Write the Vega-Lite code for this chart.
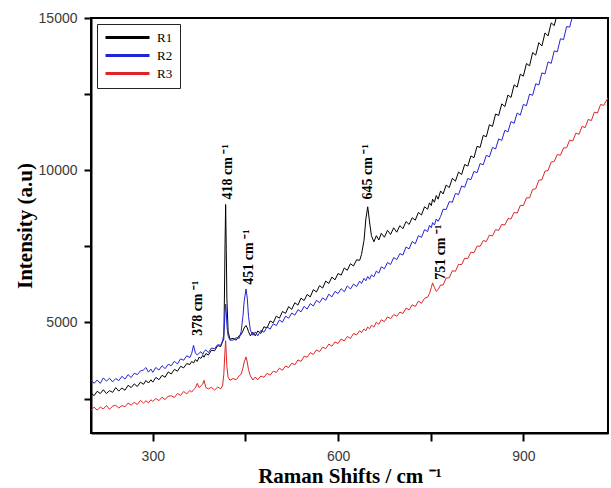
{
  "$schema": "https://vega.github.io/schema/vega-lite/v6.json",
  "width": 517,
  "height": 415,
  "autosize": {"type": "none"},
  "padding": {"left": 91, "top": 18, "right": 3, "bottom": 55},
  "background": "white",
  "config": {
    "view": {"stroke": "black", "strokeWidth": 2},
    "axis": {
      "domainColor": "black",
      "domainWidth": 2,
      "tickColor": "black",
      "tickWidth": 2,
      "grid": false,
      "labelFont": "Liberation Sans",
      "labelFontSize": 14,
      "labelColor": "#3a3a3a",
      "titleFont": "Liberation Serif",
      "titleFontWeight": "bold",
      "titleFontSize": 21,
      "titleColor": "black"
    }
  },
  "layer": [
    {
      "data": {
        "values": [
          {"x":200,"R1":2690,"R2":3120,"R3":2110},{"x":205,"R1":2595,"R2":3000,"R3":2220},{"x":210,"R1":2740,"R2":3110,"R3":2120},{"x":215,"R1":2665,"R2":3000,"R3":2220},{"x":220,"R1":2790,"R2":3180,"R3":2160},{"x":225,"R1":2665,"R2":3070,"R3":2270},{"x":230,"R1":2760,"R2":3170,"R3":2150},{"x":235,"R1":2705,"R2":3050,"R3":2250},{"x":240,"R1":2860,"R2":3160,"R3":2280},{"x":245,"R1":2745,"R2":3090,"R3":2190},{"x":250,"R1":2850,"R2":3230,"R3":2270},
          {"x":255,"R1":2773,"R2":3143,"R3":2232},{"x":260,"R1":2937,"R2":3287,"R3":2353},{"x":265,"R1":2860,"R2":3190,"R3":2285},{"x":270,"R1":2983,"R2":3333,"R3":2377},{"x":275,"R1":2897,"R2":3287,"R3":2308},{"x":280,"R1":3040,"R2":3410,"R3":2440},{"x":285,"R1":2970,"R2":3440,"R3":2350},{"x":289,"R1":3096,"R2":3520,"R3":2430},{"x":293,"R1":3012,"R2":3370,"R3":2360},{"x":297,"R1":3118,"R2":3470,"R3":2460},
          {"x":300,"R1":3040,"R2":3360,"R3":2410},{"x":305,"R1":3195,"R2":3523,"R3":2502},{"x":310,"R1":3120,"R2":3437,"R3":2433},{"x":315,"R1":3265,"R2":3580,"R3":2545},{"x":320,"R1":3200,"R2":3483,"R3":2467},{"x":325,"R1":3375,"R2":3627,"R3":2578},{"x":330,"R1":3310,"R2":3580,"R3":2590},{"x":335,"R1":3460,"R2":3725,"R3":2538},{"x":340,"R1":3400,"R2":3640,"R3":2667},{"x":345,"R1":3560,"R2":3805,"R3":2605},{"x":350,"R1":3510,"R2":3760,"R3":2733},{"x":355,"R1":3650,"R2":3905,"R3":2652},{"x":360,"R1":3620,"R2":3850,"R3":2770},
          {"x":363,"R1":3720,"R2":3980,"R3":2715},{"x":366,"R1":3670,"R2":4250,"R3":2790},{"x":369,"R1":3780,"R2":4000,"R3":2850},{"x":372,"R1":3720,"R2":3930,"R3":3000},{"x":375,"R1":3860,"R2":3990,"R3":2860},{"x":378,"R1":3820,"R2":4040,"R3":2920},{"x":381,"R1":3920,"R2":3950,"R3":2980},{"x":383,"R1":3860,"R2":4050,"R3":3100},{"x":386,"R1":3980,"R2":4100,"R3":2860},{"x":390,"R1":3930,"R2":4010,"R3":2820},{"x":395,"R1":4090,"R2":4160,"R3":2870},{"x":400,"R1":4070,"R2":4140,"R3":2780},{"x":405,"R1":4240,"R2":4270,"R3":2880},{"x":410,"R1":4210,"R2":4250,"R3":2820},{"x":413,"R1":4370,"R2":4400,"R3":2920},
          {"x":415,"R1":4450,"R2":4600,"R3":3300},{"x":416,"R1":5800,"R2":4950,"R3":3700},{"x":417,"R1":7600,"R2":5300,"R3":4100},{"x":418,"R1":8875,"R2":5600,"R3":4400},{"x":419,"R1":7400,"R2":5350,"R3":4000},{"x":420,"R1":5800,"R2":4900,"R3":3550},{"x":422,"R1":4700,"R2":4550,"R3":3200},{"x":425,"R1":4450,"R2":4420,"R3":3100},{"x":430,"R1":4480,"R2":4420,"R3":3160},{"x":435,"R1":4420,"R2":4500,"R3":3120},{"x":440,"R1":4570,"R2":4480,"R3":3250},{"x":443,"R1":4600,"R2":4700,"R3":3300},{"x":446,"R1":4720,"R2":5200,"R3":3500},{"x":448,"R1":4820,"R2":5700,"R3":3700},{"x":451,"R1":4900,"R2":6100,"R3":3870},{"x":453,"R1":4820,"R2":5800,"R3":3700},{"x":455,"R1":4700,"R2":5200,"R3":3450},{"x":458,"R1":4560,"R2":4750,"R3":3250},{"x":462,"R1":4680,"R2":4580,"R3":3110},{"x":466,"R1":4560,"R2":4690,"R3":3210},{"x":470,"R1":4720,"R2":4560,"R3":3120},{"x":475,"R1":4640,"R2":4740,"R3":3240},
          {"x":480,"R1":4860,"R2":4684,"R3":3200},{"x":485,"R1":4820,"R2":4858,"R3":3330},{"x":490,"R1":5050,"R2":4782,"R3":3270},{"x":495,"R1":4990,"R2":4956,"R3":3400},{"x":500,"R1":5210,"R2":4900,"R3":3360},{"x":505,"R1":5140,"R2":5080,"R3":3500},{"x":510,"R1":5360,"R2":5010,"R3":3430},{"x":515,"R1":5300,"R2":5210,"R3":3570},{"x":520,"R1":5520,"R2":5140,"R3":3520},{"x":525,"R1":5430,"R2":5310,"R3":3660},{"x":530,"R1":5650,"R2":5240,"R3":3610},{"x":535,"R1":5570,"R2":5420,"R3":3770},{"x":540,"R1":5800,"R2":5350,"R3":3720},{"x":545,"R1":5720,"R2":5530,"R3":3890},{"x":550,"R1":5920,"R2":5440,"R3":3860},
          {"x":555,"R1":5840,"R2":5620,"R3":4010},{"x":560,"R1":6080,"R2":5540,"R3":3950},{"x":565,"R1":6000,"R2":5730,"R3":4100},{"x":570,"R1":6210,"R2":5650,"R3":4040},{"x":575,"R1":6130,"R2":5810,"R3":4190},{"x":580,"R1":6360,"R2":5730,"R3":4140},{"x":585,"R1":6280,"R2":5930,"R3":4290},{"x":590,"R1":6490,"R2":5840,"R3":4220},{"x":595,"R1":6400,"R2":6020,"R3":4360},{"x":600,"R1":6610,"R2":5950,"R3":4310},{"x":605,"R1":6555,"R2":6110,"R3":4457},{"x":610,"R1":6790,"R2":6010,"R3":4393},{"x":615,"R1":6715,"R2":6200,"R3":4540},{"x":620,"R1":6930,"R2":6100,"R3":4477},{"x":625,"R1":6855,"R2":6260,"R3":4633},{"x":630,"R1":7060,"R2":6180,"R3":4590},{"x":635,"R1":7040,"R2":6360,"R3":4730},{"x":638,"R1":7240,"R2":6280,"R3":4670},
          {"x":642,"R1":7700,"R2":6450,"R3":4790},{"x":645,"R1":8400,"R2":6370,"R3":4730},{"x":648,"R1":8800,"R2":6510,"R3":4850},{"x":651,"R1":8300,"R2":6420,"R3":4790},{"x":654,"R1":7850,"R2":6560,"R3":4910},{"x":658,"R1":7650,"R2":6500,"R3":4850},{"x":662,"R1":7850,"R2":6690,"R3":5010},{"x":666,"R1":7710,"R2":6620,"R3":4940},{"x":670,"R1":7930,"R2":6830,"R3":5090},{"x":675,"R1":7800,"R2":6765,"R3":5025},{"x":680,"R1":8025,"R2":6970,"R3":5180},{"x":685,"R1":7890,"R2":6905,"R3":5125},{"x":690,"R1":8110,"R2":7130,"R3":5260},{"x":695,"R1":7965,"R2":7065,"R3":5205},{"x":700,"R1":8180,"R2":7260,"R3":5340},
          {"x":705,"R1":8080,"R2":7215,"R3":5295},{"x":710,"R1":8315,"R2":7480,"R3":5470},{"x":715,"R1":8220,"R2":7415,"R3":5415},{"x":720,"R1":8440,"R2":7660,"R3":5580},{"x":725,"R1":8360,"R2":7585,"R3":5525},{"x":730,"R1":8615,"R2":7850,"R3":5700},{"x":735,"R1":8530,"R2":7795,"R3":5630},{"x":740,"R1":8800,"R2":8050,"R3":5795},{"x":745,"R1":8720,"R2":7985,"R3":5830},{"x":748,"R1":8930,"R2":8190,"R3":5950},{"x":751,"R1":8840,"R2":8110,"R3":6150},{"x":753,"R1":9050,"R2":8280,"R3":6300},{"x":756,"R1":8950,"R2":8200,"R3":6150},{"x":759,"R1":9170,"R2":8400,"R3":6020},{"x":762,"R1":9050,"R2":8320,"R3":6080},
          {"x":766,"R1":9320,"R2":8480,"R3":6230},{"x":770,"R1":9220,"R2":8720,"R3":6230},{"x":775,"R1":9515,"R2":8710,"R3":6460},{"x":780,"R1":9430,"R2":8970,"R3":6470},{"x":785,"R1":9735,"R2":8950,"R3":6700},{"x":790,"R1":9640,"R2":9240,"R3":6680},{"x":795,"R1":9940,"R2":9200,"R3":6910},{"x":800,"R1":9860,"R2":9480,"R3":6900},{"x":805,"R1":10190,"R2":9440,"R3":7110},{"x":810,"R1":10135,"R2":9730,"R3":7100},{"x":815,"R1":10470,"R2":9690,"R3":7310},{"x":820,"R1":10410,"R2":9960,"R3":7290},{"x":825,"R1":10785,"R2":9920,"R3":7510},{"x":830,"R1":10750,"R2":10220,"R3":7500},{"x":835,"R1":11145,"R2":10180,"R3":7690},{"x":840,"R1":11100,"R2":10490,"R3":7660},
          {"x":845,"R1":11495,"R2":10440,"R3":7870},{"x":850,"R1":11440,"R2":10750,"R3":7840},{"x":855,"R1":11845,"R2":10700,"R3":8050},{"x":860,"R1":11800,"R2":11030,"R3":8025},{"x":865,"R1":12180,"R2":10980,"R3":8220},{"x":870,"R1":12090,"R2":11310,"R3":8200},{"x":875,"R1":12470,"R2":11260,"R3":8410},{"x":880,"R1":12390,"R2":11600,"R3":8400},{"x":885,"R1":12805,"R2":11540,"R3":8620},{"x":890,"R1":12730,"R2":11880,"R3":8590},{"x":895,"R1":13155,"R2":11810,"R3":8845},{"x":900,"R1":13090,"R2":12160,"R3":8840},{"x":905,"R1":13505,"R2":12120,"R3":9095},{"x":910,"R1":13430,"R2":12500,"R3":9090},{"x":915,"R1":13865,"R2":12460,"R3":9370},{"x":920,"R1":13780,"R2":12840,"R3":9390},{"x":925,"R1":14190,"R2":12800,"R3":9670},{"x":930,"R1":14080,"R2":13200,"R3":9690},
          {"x":935,"R1":14510,"R2":13160,"R3":9970},{"x":940,"R1":14410,"R2":13560,"R3":9990},{"x":945,"R1":14840,"R2":13510,"R3":10270},{"x":950,"R1":14750,"R2":13920,"R3":10290},{"x":955,"R1":15170,"R2":13890,"R3":10520},{"x":960,"R1":15200,"R2":14320,"R3":10490},{"x":965,"R1":15400,"R2":14290,"R3":10730},{"x":970,"R1":15600,"R2":14720,"R3":10740},{"x":975,"R1":15850,"R2":14700,"R3":10990},{"x":980,"R1":16000,"R2":15100,"R3":10960},{"x":985,"R1":16250,"R2":15200,"R3":11220},{"x":990,"R1":16400,"R2":15400,"R3":11180},{"x":995,"R1":16600,"R2":15600,"R3":11440},{"x":1000,"R1":16800,"R2":15750,"R3":11400},{"x":1005,"R1":17000,"R2":15900,"R3":11670},{"x":1010,"R1":17200,"R2":16100,"R3":11630},{"x":1015,"R1":17400,"R2":16300,"R3":11910},{"x":1020,"R1":17600,"R2":16500,"R3":11880},{"x":1025,"R1":17800,"R2":16700,"R3":12160},{"x":1030,"R1":18000,"R2":16850,"R3":12130},{"x":1037,"R1":18300,"R2":17100,"R3":12380}
        ]
      },
      "transform": [{"fold": ["R1", "R2", "R3"], "as": ["series", "intensity"]}],
      "mark": {"type": "line", "clip": true, "strokeWidth": 1},
      "encoding": {
        "x": {
          "field": "x", "type": "quantitative",
          "scale": {"domain": [200, 1037], "nice": false, "zero": false},
          "axis": {
            "title": "Raman Shifts / cm ⁻¹",
            "values": [300, 450, 600, 750, 900],
            "labelExpr": "datum.value % 300 == 0 ? datum.label : ''",
            "tickSize": 8,
            "labelPadding": 8,
            "titlePadding": 2
          }
        },
        "y": {
          "field": "intensity", "type": "quantitative",
          "scale": {"domain": [1370, 15000], "nice": false, "zero": false},
          "axis": {
            "title": "Intensity (a.u)",
            "values": [2500, 5000, 7500, 10000, 12500, 15000],
            "labelExpr": "datum.value % 5000 == 0 ? datum.label : ''",
            "format": "d",
            "tickSize": 7,
            "labelPadding": 7,
            "titlePadding": 3
          }
        },
        "color": {
          "field": "series", "type": "nominal",
          "scale": {"domain": ["R1", "R2", "R3"], "range": ["#000000", "#2323d6", "#e02424"]},
          "legend": {
            "title": null,
            "orient": "none",
            "legendX": 6,
            "legendY": 6,
            "strokeColor": "#222222",
            "fillColor": "white",
            "padding": 7,
            "symbolType": "stroke",
            "symbolSize": 1936,
            "symbolStrokeWidth": 3,
            "clipHeight": 13,
            "rowPadding": 4,
            "labelFont": "Liberation Serif",
            "labelFontSize": 13,
            "labelColor": "black",
            "labelOffset": 6
          }
        }
      }
    },
    {
      "data": {
        "values": [
          {"label": "378 cm ⁻¹", "x": 374, "y": 4560},
          {"label": "418 cm ⁻¹", "x": 421, "y": 9040},
          {"label": "451 cm ⁻¹", "x": 455, "y": 6240},
          {"label": "645 cm ⁻¹", "x": 649, "y": 9040},
          {"label": "751 cm ⁻¹", "x": 766, "y": 6400}
        ]
      },
      "mark": {"type": "text", "angle": 270, "align": "left", "baseline": "middle", "font": "Liberation Serif", "fontWeight": "bold", "fontSize": 14, "color": "black"},
      "encoding": {
        "x": {"field": "x", "type": "quantitative"},
        "y": {"field": "y", "type": "quantitative"},
        "text": {"field": "label"}
      }
    }
  ]
}
